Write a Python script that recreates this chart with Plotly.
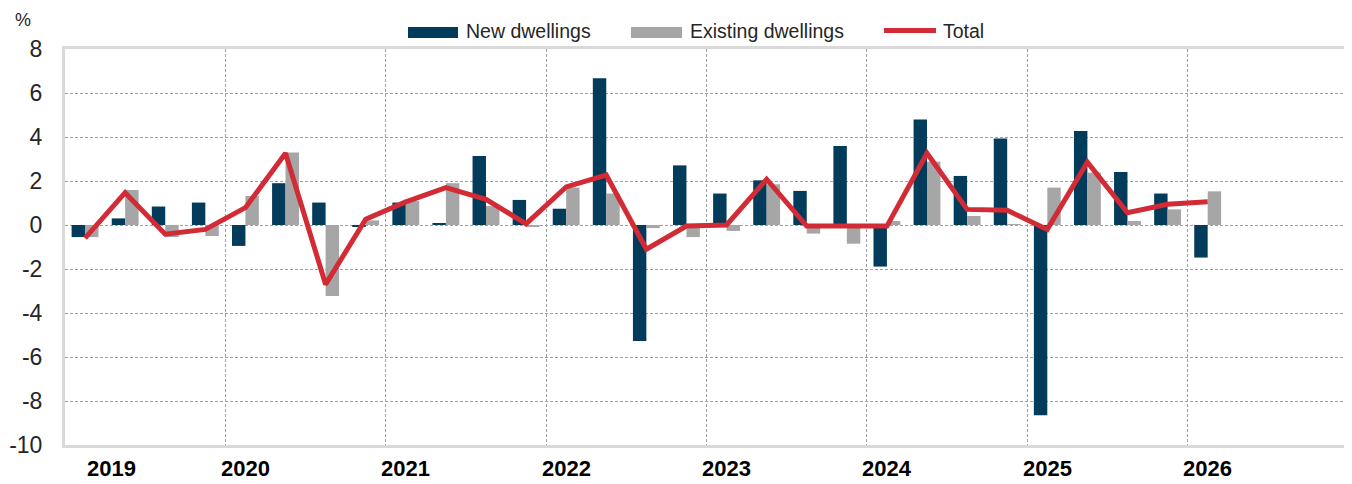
import plotly.graph_objects as go

quarters = [f"{y}Q{q}" for y in range(2019, 2026) for q in range(1, 5)] + ["2026Q1"]

new_dwellings = [-0.55, 0.30, 0.84, 1.02,
                 -0.95, 1.90, 1.02, -0.09,
                 1.02, 0.08, 3.14, 1.14,
                 0.74, 6.67, -5.27, 2.71,
                 1.43, 2.03, 1.55, 3.59,
                 -1.89, 4.80, 2.23, 3.93,
                 -8.65, 4.27, 2.41, 1.43,
                 -1.48]
existing_dwellings = [-0.55, 1.59, -0.55, -0.50,
                      1.32, 3.29, -3.23, 0.21,
                      1.10, 1.90, 0.86, -0.09,
                      1.70, 1.43, -0.14, -0.55,
                      -0.27, 1.85, -0.39, -0.85,
                      0.18, 2.88, 0.41, 0.02,
                      1.70, 2.38, 0.18, 0.71,
                      1.53]
total = [-0.60, 1.47, -0.42, -0.20,
         0.79, 3.26, -2.70, 0.26,
         1.05, 1.70, 1.17, 0.05,
         1.73, 2.27, -1.10, -0.05,
         0.00, 2.08, -0.05, -0.05,
         -0.05, 3.26, 0.71, 0.67,
         -0.20, 2.86, 0.56, 0.94,
         1.06]
years = ["2019", "2020", "2021", "2022", "2023", "2024", "2025", "2026"]
y_ticks = [-10, -8, -6, -4, -2, 0, 2, 4, 6, 8]
y_ticktext = [str(v) for v in y_ticks]

NAVY = "#033B5B"
GREY = "#A6A6A6"
RED = "#D22B36"
TXT = "#262626"
FONT = "Liberation Sans, Arial, sans-serif"

x = list(range(len(quarters)))
n_slots = 32  # 2019Q1 .. 2026Q4

fig = go.Figure()
fig.add_trace(go.Bar(x=x, y=new_dwellings, name="New dwellings", marker_color=NAVY,
                     marker_line_width=0, hovertext=quarters))
fig.add_trace(go.Bar(x=x, y=existing_dwellings, name="Existing dwellings", marker_color=GREY,
                     marker_line_width=0, hovertext=quarters))
fig.add_trace(go.Scatter(x=x, y=total, name="Total", mode="lines",
                         line=dict(color=RED, width=5), hovertext=quarters))

# page body has an 8px default margin: figure origin sits at (8, 8) on screen
OFF = 8
SCREEN_W, SCREEN_H = 1352, 484
W, H = SCREEN_W - OFF, SCREEN_H - OFF
# plot area in screen pixels
L, R, T, B = 65, 1348, 49, 445


def px(xp):
    return (xp - L) / (R - L)


def py(yp):
    return (B - yp) / (B - T)


annotations = []
# year labels (first-quarter position, 2019 slightly shifted as in reference)
year_pos = [0.65] + [4 * i for i in range(1, len(years))]
for yr, pos in zip(years, year_pos):
    annotations.append(dict(x=pos, y=py(468), xref="x", yref="paper", text=yr, showarrow=False,
                            yanchor="middle",
                            font=dict(family=FONT, size=22, color="#000000", weight="bold")))
# y unit
annotations.append(dict(x=px(23), y=py(20), xref="paper", yref="paper", text="%", showarrow=False,
                        xanchor="center", yanchor="middle",
                        font=dict(family=FONT, size=18, color=TXT)))

# custom legend
leg_font = dict(family=FONT, size=19.5, color=TXT)
shapes = [
    dict(type="rect", xref="paper", yref="paper", x0=px(408), x1=px(458), y0=py(38), y1=py(27),
         fillcolor=NAVY, line_width=0),
    dict(type="rect", xref="paper", yref="paper", x0=px(631), x1=px(682), y0=py(38), y1=py(27),
         fillcolor=GREY, line_width=0),
    dict(type="line", xref="paper", yref="paper", x0=px(884), x1=px(936), y0=py(30.5), y1=py(30.5),
         line=dict(color=RED, width=5)),
]
for txt, xp in [("New dwellings", 464), ("Existing dwellings", 688), ("Total", 941)]:
    annotations.append(dict(x=px(xp), y=py(31), xref="paper", yref="paper", text=txt, showarrow=False,
                            xanchor="left", yanchor="middle", font=leg_font))

fig.update_layout(
    width=W, height=H,
    margin=dict(l=L - OFF, r=SCREEN_W - R, t=T - OFF, b=SCREEN_H - B, autoexpand=False),
    paper_bgcolor="white", plot_bgcolor="white",
    barmode="group", bargap=0.33, bargroupgap=0,
    showlegend=False,
    annotations=annotations,
    shapes=shapes,
    font=dict(family=FONT, color=TXT),
)
fig.update_xaxes(
    range=[-0.5, n_slots - 0.5],
    tickvals=[4 * i - 0.5 for i in range(1, 8)],
    showticklabels=False, ticks="", automargin=False,
    showgrid=True, gridcolor="#A0A0A0", gridwidth=1, griddash="3px,2px",
    zeroline=False,
    showline=True, linecolor="#D9D9D9", linewidth=3, mirror=True,
)
fig.update_yaxes(
    range=[-10, 8], tickvals=y_ticks, ticktext=y_ticktext,
    tickfont=dict(family=FONT, size=23, color=TXT),
    ticks="", ticklabelstandoff=15, automargin=False,
    showgrid=True, gridcolor="#A0A0A0", gridwidth=1, griddash="3px,2px",
    zeroline=False,
    showline=True, linecolor="#D9D9D9", linewidth=3, mirror=True,
)

fig.write_html("out.html")
